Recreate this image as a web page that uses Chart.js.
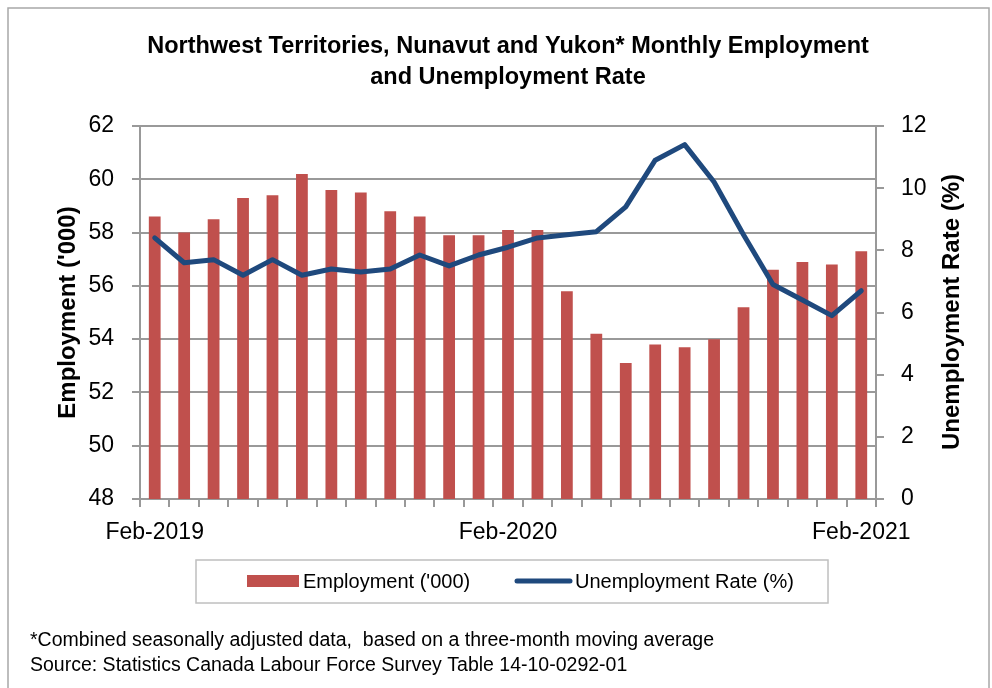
<!DOCTYPE html>
<html>
<head>
<meta charset="utf-8">
<script src="https://cdn.jsdelivr.net/npm/chart.js@4"></script>
<style>
  html, body { margin: 0; padding: 0; background: #fff; }
  #wrap { position: relative; width: 992px; height: 688px; }
</style>
</head>
<body>
<div id="wrap"><canvas id="c" width="992" height="688"></canvas></div>
<script>
// ---- data ----
const months = [
  'Feb-2019','Mar-2019','Apr-2019','May-2019','Jun-2019','Jul-2019','Aug-2019','Sep-2019','Oct-2019','Nov-2019','Dec-2019','Jan-2020',
  'Feb-2020','Mar-2020','Apr-2020','May-2020','Jun-2020','Jul-2020','Aug-2020','Sep-2020','Oct-2020','Nov-2020','Dec-2020','Jan-2021',
  'Feb-2021'
];
const employment = [58.6, 58.0, 58.5, 59.3, 59.4, 60.2, 59.6, 59.5, 58.8, 58.6, 57.9, 57.9,
                    58.1, 58.1, 55.8, 54.2, 53.1, 53.8, 53.7, 54.0, 55.2, 56.6, 56.9, 56.8, 57.3];
const unemploymentRate = [8.4, 7.6, 7.7, 7.2, 7.7, 7.2, 7.4, 7.3, 7.4, 7.85, 7.5, 7.85,
                          8.1, 8.4, 8.5, 8.6, 9.4, 10.9, 11.4, 10.2, 8.5, 6.9, 6.4, 5.9, 6.7];
const shownXTicks = ['Feb-2019', 'Feb-2020', 'Feb-2021'];
const titleLines = ['Northwest Territories, Nunavut and Yukon* Monthly Employment', 'and Unemployment Rate'];
const leftAxisTitle = "Employment ('000)";
const rightAxisTitle = 'Unemployment Rate (%)';
const seriesLabels = ["Employment ('000)", 'Unemployment Rate (%)'];
const footnotes = ['*Combined seasonally adjusted data,  based on a three-month moving average',
                   'Source: Statistics Canada Labour Force Survey Table 14-10-0292-01'];

// ---- styling ----
const FONT = '"Liberation Sans", Arial, sans-serif';
const GRID = '#999999';
const RED = '#C0504D';
const BLUE = '#1F497D';
Chart.defaults.font.family = FONT;
Chart.defaults.color = '#000';

const overlay = {
  id: 'overlay',
  afterDraw(chart) {
    const ctx = chart.ctx;
    ctx.save();
    // outer frame
    ctx.strokeStyle = '#a8a8a8';
    ctx.lineWidth = 1.5;
    ctx.strokeRect(8, 8, 981, 700);
    // title
    ctx.fillStyle = '#000';
    ctx.textAlign = 'center';
    ctx.textBaseline = 'middle';
    ctx.font = 'bold 23.5px ' + FONT;
    titleLines.forEach((t, i) => ctx.fillText(t, 508, 47 + i * 31));
    // right axis title (reads bottom to top)
    ctx.save();
    ctx.translate(952, 312);
    ctx.rotate(-Math.PI / 2);
    ctx.font = 'bold 24px ' + FONT;
    ctx.fillText(rightAxisTitle, 0, 0);
    ctx.restore();
    // legend
    ctx.strokeStyle = '#bfbfbf';
    ctx.lineWidth = 1.5;
    ctx.strokeRect(196, 560, 632, 43);
    const ds = chart.data.datasets;
    ctx.font = '20px ' + FONT;
    ctx.textAlign = 'left';
    ctx.fillStyle = ds[1].backgroundColor;
    ctx.fillRect(247, 575, 52, 12);
    ctx.fillStyle = '#000';
    ctx.fillText(ds[1].label, 303, 582);
    ctx.strokeStyle = ds[0].borderColor;
    ctx.lineWidth = 5;
    ctx.lineCap = 'round';
    ctx.beginPath();
    ctx.moveTo(517, 581);
    ctx.lineTo(570, 581);
    ctx.stroke();
    ctx.fillText(ds[0].label, 575, 582);
    // footnotes
    ctx.font = '19.5px ' + FONT;
    footnotes.forEach((t, i) => ctx.fillText(t, 30, 641 + i * 25));
    ctx.restore();
  }
};

new Chart(document.getElementById('c'), {
  type: 'bar',
  data: {
    labels: months,
    datasets: [
      {
        type: 'line',
        label: seriesLabels[1],
        data: unemploymentRate,
        yAxisID: 'y1',
        borderColor: BLUE,
        backgroundColor: BLUE,
        borderWidth: 5,
        pointRadius: 0,
        tension: 0,
        borderJoinStyle: 'round',
        borderCapStyle: 'round',
        order: 0
      },
      {
        type: 'bar',
        label: seriesLabels[0],
        data: employment,
        yAxisID: 'y',
        backgroundColor: RED,
        barPercentage: 0.4,
        categoryPercentage: 1.0,
        order: 1
      }
    ]
  },
  plugins: [overlay],
  options: {
    responsive: false,
    animation: false,
    layout: { padding: { top: 126, bottom: 129, left: 0, right: 0 } },
    plugins: {
      legend: { display: false },
      title: { display: false },
      tooltip: { enabled: false }
    },
    scales: {
      x: {
        offset: true,
        afterFit(s) { s.height = 60; },
        grid: { offset: true, drawOnChartArea: false, tickLength: 8, color: GRID, lineWidth: 2 },
        border: { color: GRID, width: 2 },
        ticks: {
          autoSkip: false, maxRotation: 0, minRotation: 0, padding: 12,
          font: { size: 23 }, color: '#000',
          callback(v, i) { const l = months[i]; return shownXTicks.includes(l) ? l : ''; }
        }
      },
      y: {
        position: 'left',
        min: 48, max: 62,
        afterFit(s) { s.width = 140; },
        grid: { color: GRID, lineWidth: 2, tickLength: 8 },
        border: { color: GRID, width: 2 },
        ticks: { stepSize: 2, padding: 18, font: { size: 23 }, color: '#000' },
        title: { display: true, text: leftAxisTitle, font: { size: 24, weight: 'bold' }, color: '#000', padding: { top: 54, bottom: 0 } }
      },
      y1: {
        position: 'right',
        min: 0, max: 12,
        afterFit(s) { s.width = 116; },
        grid: { drawOnChartArea: false, color: GRID, lineWidth: 2, tickLength: 8 },
        border: { color: GRID, width: 2 },
        ticks: { stepSize: 2, padding: 17, font: { size: 23 }, color: '#000' }
      }
    }
  }
});
</script>
</body>
</html>
